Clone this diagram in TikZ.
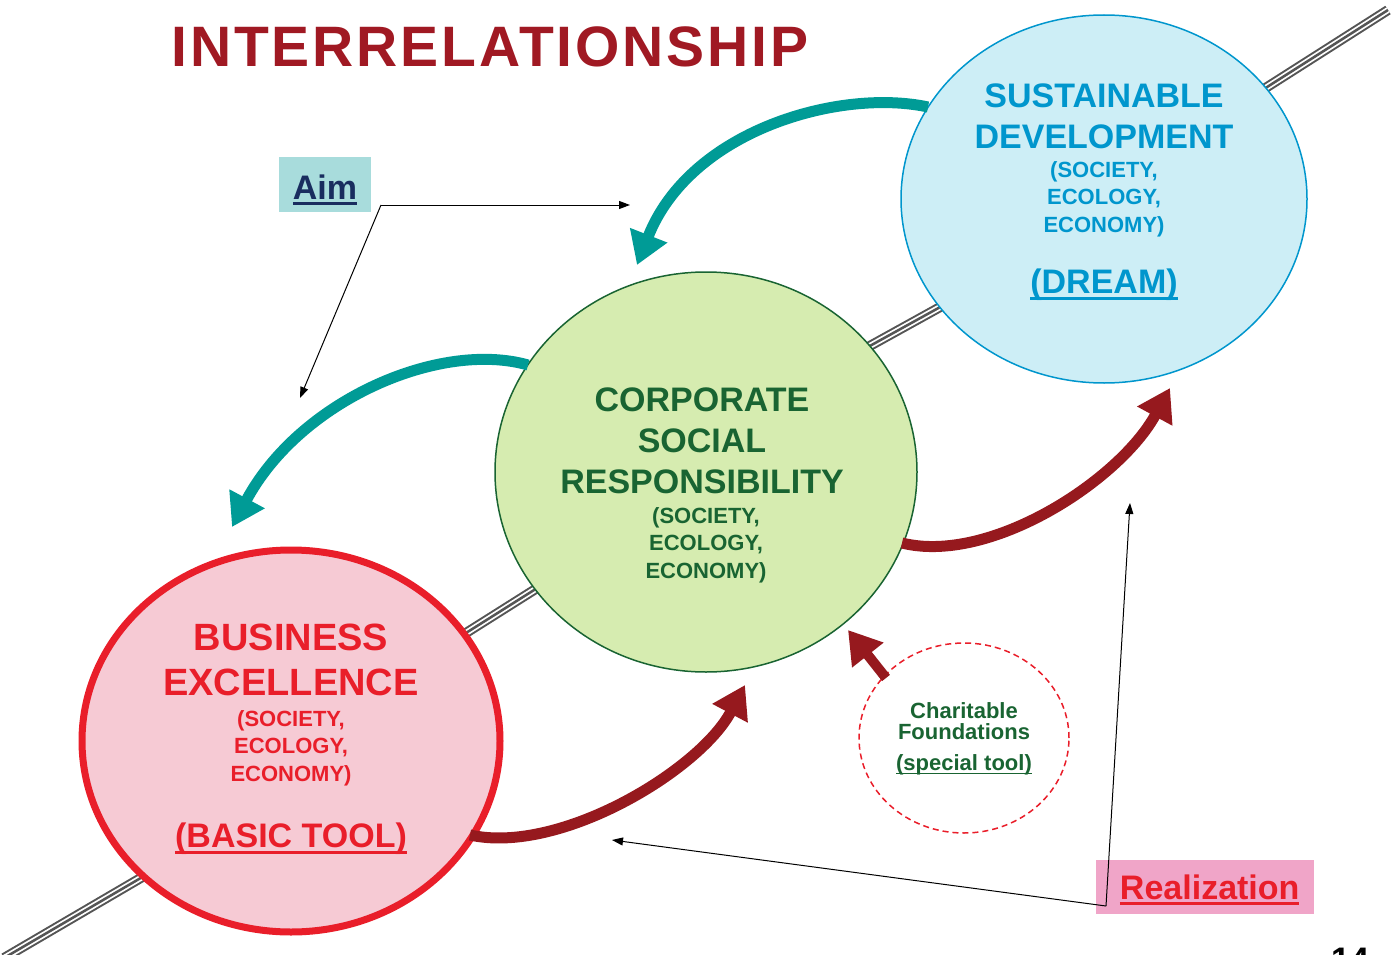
\documentclass[tikz,border=0pt]{standalone}
\usepackage{fontspec}
\setmainfont{Liberation Sans}
\usetikzlibrary{arrows.meta,shapes.geometric}

\definecolor{titlered}{RGB}{160,25,35}
\definecolor{arrowteal}{RGB}{0,155,150}
\definecolor{arrowred}{RGB}{150,25,30}
\definecolor{sdblue}{RGB}{0,150,205}
\definecolor{sdfill}{RGB}{205,238,246}
\definecolor{csrgreen}{RGB}{25,100,50}
\definecolor{csrfill}{RGB}{214,236,176}
\definecolor{bered}{RGB}{233,30,42}
\definecolor{befill}{RGB}{246,202,212}
\definecolor{aimfill}{RGB}{168,220,220}
\definecolor{aimnavy}{RGB}{25,45,95}
\definecolor{realfill}{RGB}{240,165,200}
\definecolor{railgray}{RGB}{85,85,85}

\newcommand{\ulin}[1]{\leavevmode\setbox0=\hbox{#1}\rlap{\rule[-0.17em]{\wd0}{0.08em}}\box0}
\newcommand{\fbig}{\fontsize{34}{41}\selectfont}
\newcommand{\fbe}{\fontsize{38}{45}\selectfont}
\newcommand{\fsmall}{\fontsize{22}{27.5}\selectfont}

\begin{document}
\begin{tikzpicture}[x=1pt,y=-1pt,
    every node/.style={font=\bfseries,inner sep=0pt},
    bubble/.style={ellipse,inner sep=0pt},
    railout/.style={draw=railgray,line width=10pt},
    railgap/.style={draw=white,line width=6pt},
    railmid/.style={draw=railgray,line width=2.5pt},
    tealarrow/.style={draw=arrowteal,line width=11pt,-{Triangle[length=32pt,width=38pt]}},
    redarrow/.style={draw=arrowred,line width=11pt,-{Triangle[length=32pt,width=38pt]}},
    thinarrow/.style={draw=black,line width=1pt,-{Triangle[length=11pt,width=8pt]}}]
    \useasboundingbox (0,0) rectangle (1392,955);

    % the rail behind the bubbles
    \path[railout] (4,958) -- (180,855) -- (420,662) -- (580,561) -- (830,368) -- (980,285) -- (1220,117) -- (1388,10);
    \path[railgap] (4,958) -- (180,855) -- (420,662) -- (580,561) -- (830,368) -- (980,285) -- (1220,117) -- (1388,10);
    \path[railmid] (4,958) -- (180,855) -- (420,662) -- (580,561) -- (830,368) -- (980,285) -- (1220,117) -- (1388,10);

    \node[font=\bfseries\fontsize{57}{60}\selectfont\addfontfeatures{LetterSpace=5},text=titlered] (title) at (490,47) {INTERRELATIONSHIP};

    \node[bubble,fill=sdfill,draw=sdblue,line width=1.5pt,minimum width=406pt,minimum height=368pt] (dream) at (1104,199) {};
    \node[bubble,fill=csrfill,draw=csrgreen,line width=1.5pt,minimum width=422pt,minimum height=400pt] (csr) at (706,472) {};
    \node[bubble,fill=befill,draw=bered,line width=7pt,minimum width=418pt,minimum height=382pt] (basic) at (291,741) {};
    \node[bubble,draw=bered,dashed,dash pattern=on 6pt off 4pt,line width=1.5pt,minimum width=210pt,minimum height=190pt] (charity) at (964,738) {};

    \node[align=center,text=sdblue,font=\bfseries\fbig] (sdname) at (1104,116) {SUSTAINABLE\\DEVELOPMENT};
    \node[align=center,text=sdblue,font=\bfseries\fsmall] (sdsub) at (1104,199) {(SOCIETY,\\ECOLOGY,\\ECONOMY)};
    \node[text=sdblue,font=\bfseries\fbig] (sddream) at (1104,285) {\ulin{(DREAM)}};

    \node[align=center,text=csrgreen,font=\bfseries\fbig] (csrname) at (702,441) {CORPORATE\\SOCIAL\\RESPONSIBILITY};
    \node[align=center,text=csrgreen,font=\bfseries\fsmall] (csrsub) at (706,545) {(SOCIETY,\\ECOLOGY,\\ECONOMY)};

    \node[align=center,text=bered,font=\bfseries\fbe] (bename) at (291,660) {BUSINESS\\EXCELLENCE};
    \node[align=center,text=bered,font=\bfseries\fsmall] (besub) at (291,748) {(SOCIETY,\\ECOLOGY,\\ECONOMY)};
    \node[text=bered,font=\bfseries\fbig] (betool) at (291,839) {\ulin{(BASIC TOOL)}};

    \node[align=center,text=csrgreen,font=\bfseries\fontsize{22}{21}\selectfont] (cfname) at (964,721) {Charitable\\Foundations};
    \node[text=csrgreen,font=\bfseries\fontsize{22}{26}\selectfont] (cftool) at (964,765) {\ulin{(special tool)}};

    \node[fill=aimfill,minimum width=92pt,minimum height=55pt,text height=35pt,text depth=6pt,text=aimnavy,font=\bfseries\fbig] (aim) at (325,184.5) {\ulin{Aim}};
    \node[fill=realfill,minimum width=218pt,minimum height=54pt,text height=30pt,text depth=6pt,text=bered,font=\bfseries\fbig] (real) at (1205,887) {\ \ulin{Realization}};

    \node[font=\bfseries\fbig] (page) at (1350,960) {14};

    % big arrows
    \draw[tealarrow] (928,107) .. controls (840,88) and (690,130) .. (637,265);
    \draw[tealarrow] (528,365) .. controls (440,340) and (300,400) .. (232,527);
    \draw[redarrow] (470,835) .. controls (560,855) and (700,770) .. (745,685);
    \draw[redarrow] (902,543) .. controls (990,565) and (1120,480) .. (1170,388);
    \draw[redarrow,line width=10pt] (886,678) -- (848,630);

    % thin pointers
    \coordinate (ahub) at (381,205);
    \coordinate (aimtop) at (630,205);
    \coordinate (aimlow) at (300,398);
    \draw[thinarrow] (ahub) -- (aimtop);
    \draw[thinarrow] (ahub) -- (aimlow);
    \coordinate (rhub) at (1106,906);
    \coordinate (realleft) at (612,840);
    \coordinate (realup) at (1130,503);
    \draw[thinarrow] (rhub) -- (realleft);
    \draw[thinarrow] (rhub) -- (realup);
\end{tikzpicture}
\end{document}
